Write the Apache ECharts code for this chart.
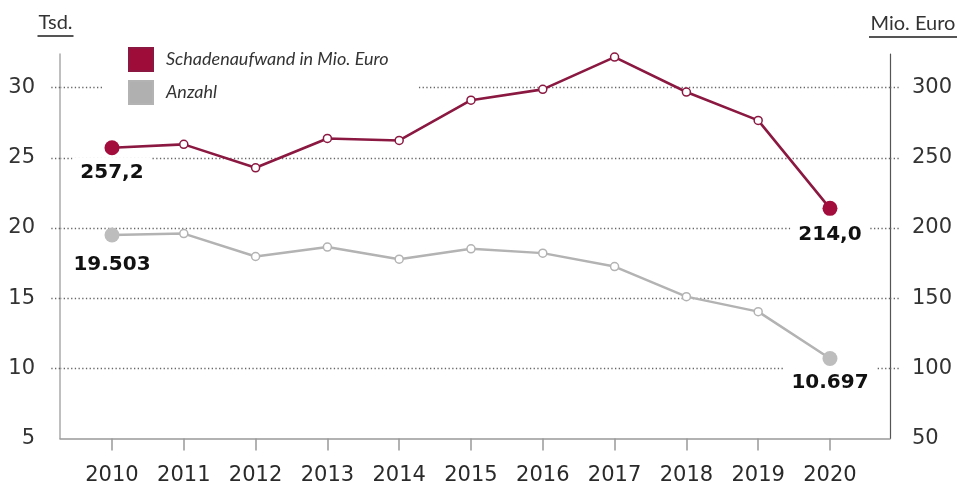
<!DOCTYPE html>
<html>
<head>
<meta charset="utf-8">
<script src="https://cdn.jsdelivr.net/npm/echarts@6/dist/echarts.min.js"></script>
<style>html,body{margin:0;padding:0;background:#fff}#c{width:960px;height:482px}</style>
</head>
<body>
<div id="c"></div>
<script>
const years = [2010, 2011, 2012, 2013, 2014, 2015, 2016, 2017, 2018, 2019, 2020];
const schaden = [257.2, 259.6, 242.9, 263.8, 262.4, 291.1, 298.8, 321.8, 296.9, 276.7, 214.0];
const anzahl = [19.503, 19.6, 17.97, 18.64, 17.78, 18.52, 18.21, 17.25, 15.11, 14.04, 10.697];
const leftTicks = [5, 10, 15, 20, 25, 30];
const rightTicks = [50, 100, 150, 200, 250, 300];
const nameSchaden = 'Schadenaufwand in Mio. Euro';
const nameAnzahl = 'Anzahl';

const RED_LINE = '#8a1840', RED_DOT = '#a30d3d';
const GRAY_LINE = '#b3b3b3', GRAY_DOT = '#bdbdbd';
const GRID_DOT = {color: '#666', width: 1.3, type: [1.3, 2.4]};

function fmtMio(v) { return v.toFixed(1).replace('.', ','); }
function fmtTsd(v) {
  const n = String(Math.round(v * 1000));
  return n.replace(/\B(?=(\d{3})+(?!\d))/g, '.');
}
function endLabel(text, dist) {
  return {
    show: true, position: 'bottom', distance: dist,
    formatter: () => text,
    fontFamily: 'DejaVu Sans', fontWeight: 'bold', fontSize: 20, color: '#111',
    backgroundColor: '#fff', padding: [6, 8, 3, 8], lineHeight: 20
  };
}
function buildData(vals, dotColor, fmt, d0, d1) {
  return vals.map((v, i) => {
    const item = {value: [years[i], v]};
    if (i === 0 || i === vals.length - 1) {
      item.symbolSize = 15;
      item.itemStyle = {color: dotColor, borderColor: dotColor, borderWidth: 0};
      item.label = endLabel(fmt(v), i === 0 ? d0 : d1);
    }
    return item;
  });
}

const chart = echarts.init(document.getElementById('c'), null, {renderer: 'canvas'});
chart.setOption({
  animation: false,
  backgroundColor: '#fff',
  legend: {
    orient: 'vertical', left: 103, top: 42,
    padding: [5, 30, 5, 25],
    backgroundColor: '#fff',
    itemWidth: 24, itemHeight: 23, itemGap: 8,
    icon: 'rect',
    data: [
      {name: nameSchaden, itemStyle: {color: '#9e0c3a'}},
      {name: nameAnzahl, itemStyle: {color: '#b0b0b0'}}
    ],
    textStyle: {fontFamily: 'Lato', fontStyle: 'italic', fontSize: 18, color: '#333', padding: [0, 0, 0, 8]}
  },
  grid: {left: 60, right: 70, top: 54, bottom: 43.5, containLabel: false, outerBoundsMode: 'none'},
  xAxis: {
    type: 'value', min: 2009.276, max: 2020.836,
    splitLine: {show: false},
    axisLine: {show: true, lineStyle: {color: '#999', width: 1.5}},
    axisTick: {show: true, length: 12, customValues: years, lineStyle: {color: '#999', width: 1.5}},
    axisLabel: {customValues: years, formatter: v => String(v), margin: 27,
      fontFamily: 'DejaVu Sans', fontSize: 21, color: '#2a2a2a'}
  },
  yAxis: [
    {
      type: 'value', position: 'left', min: 5, max: 32.4,
      name: '{t|Tsd.}\n{u|}',
      nameLocation: 'end', nameGap: 17,
      nameTextStyle: {padding: [0, 9, 0, 0], rich: {
        t: {fontFamily: 'Lato', fontSize: 20, color: '#333', lineHeight: 24},
        u: {width: 36, height: 2, backgroundColor: '#555'}
      }},
      axisLine: {show: true, lineStyle: {color: '#aaa', width: 1.5}},
      axisTick: {show: true, length: 11, customValues: [10, 15, 20, 25, 30], lineStyle: GRID_DOT},
      axisLabel: {customValues: leftTicks, margin: 25, fontFamily: 'DejaVu Sans', fontSize: 21, color: '#333'},
      splitLine: {show: true, lineStyle: GRID_DOT}
    },
    {
      type: 'value', position: 'right', min: 50, max: 324,
      name: '{t|Mio. Euro}\n{u|}',
      nameLocation: 'end', nameGap: 16,
      nameTextStyle: {padding: [0, 0, 0, 46], rich: {
        t: {fontFamily: 'Lato', fontSize: 20, color: '#333', lineHeight: 24},
        u: {width: 88, height: 2, backgroundColor: '#555'}
      }},
      axisLine: {show: true, lineStyle: {color: '#555', width: 1.2}},
      axisTick: {show: true, length: 10, customValues: [100, 150, 200, 250, 300], lineStyle: GRID_DOT},
      axisLabel: {customValues: rightTicks, margin: 22, fontFamily: 'DejaVu Sans', fontSize: 21, color: '#333'},
      splitLine: {show: false}
    }
  ],
  series: [
    {
      name: nameSchaden, type: 'line', yAxisIndex: 1,
      data: buildData(schaden, RED_DOT, fmtMio, 2, 2.5),
      symbol: 'circle', symbolSize: 8, showAllSymbol: true,
      lineStyle: {color: RED_LINE, width: 2.6},
      itemStyle: {color: '#fff', borderColor: RED_LINE, borderWidth: 1.5},
      emphasis: {disabled: true}, z: 3
    },
    {
      name: nameAnzahl, type: 'line', yAxisIndex: 0,
      data: buildData(anzahl, GRAY_DOT, fmtTsd, 6, 1),
      symbol: 'circle', symbolSize: 8, showAllSymbol: true,
      lineStyle: {color: GRAY_LINE, width: 2.5},
      itemStyle: {color: '#fff', borderColor: GRAY_LINE, borderWidth: 1.5},
      emphasis: {disabled: true}, z: 3
    }
  ]
});
</script>
</body>
</html>
